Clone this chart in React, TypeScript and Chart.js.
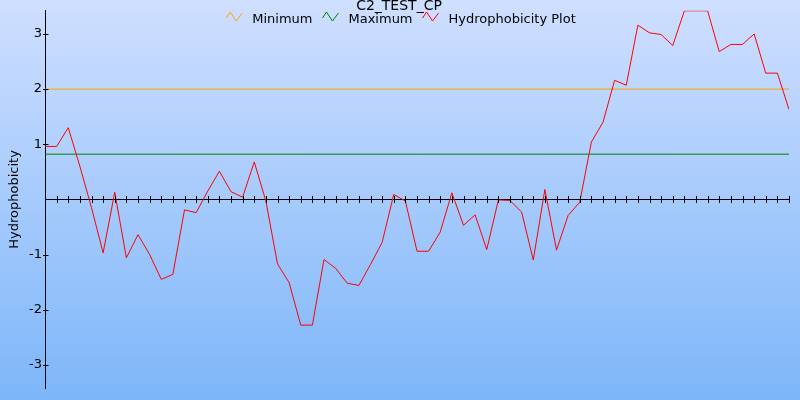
import React, { useEffect, useRef } from "react";
import { Chart, registerables } from "chart.js";

Chart.register(...registerables);

const chartTitle = "C2_TEST_CP";
const yAxisTitle = "Hydrophobicity";
const seriesLabels = ["Minimum", "Maximum", "Hydrophobicity Plot"];
const seriesColors = ["#ffa500", "#008000", "#ff0000"];
const minimumLevel = 2.0;
const maximumLevel = 0.82;
const hydrophobicity = [
  0.96, 0.96, 1.3, 0.6, -0.15, -0.97, 0.13, -1.06, -0.64, -1.0,
  -1.45, -1.36, -0.19, -0.24, 0.15, 0.51, 0.14, 0.04, 0.68, -0.03,
  -1.17, -1.51, -2.28, -2.28, -1.09, -1.25, -1.52, -1.56, -1.18, -0.78,
  0.09, -0.03, -0.94, -0.94, -0.59, 0.12, -0.47, -0.28, -0.91, -0.01,
  -0.02, -0.23, -1.1, 0.18, -0.92, -0.29, -0.05, 1.04, 1.4, 2.16,
  2.07, 3.16, 3.02, 2.99, 2.79, 3.42, 3.42, 3.42, 2.68, 2.81,
  2.81, 3.0, 2.29, 2.29, 1.63,
];
const yTickValues = [-3, -2, -1, 1, 2, 3];
const yLimit = 3.42;

const FONT = "'DejaVu Sans', sans-serif";

const backgroundPlugin = {
  id: "gradientBackground",
  beforeDraw(chart: any) {
    const { ctx, width, height } = chart;
    const g = ctx.createLinearGradient(0, 0, 0, height);
    g.addColorStop(0, "#cfdfff");
    g.addColorStop(1, "#7db6f9");
    ctx.save();
    ctx.fillStyle = g;
    ctx.fillRect(0, 0, width, height);
    ctx.restore();
  },
};

const decorPlugin = {
  id: "decor",
  afterDraw(chart: any) {
    const { ctx } = chart;
    const xs = chart.scales.x;
    const ys = chart.scales.y;
    const y0 = Math.round(ys.getPixelForValue(0)) + 0.5;
    const axisX = Math.round(chart.chartArea.left) + 0.5;
    ctx.save();
    ctx.strokeStyle = "#000";
    ctx.lineWidth = 1;
    ctx.beginPath();
    xs.ticks.forEach((t: any) => {
      const px = Math.round(xs.getPixelForValue(t.value)) + 0.5;
      ctx.moveTo(px, y0 - 3.5);
      ctx.lineTo(px, y0 + 3.5);
    });
    ys.ticks.forEach((t: any) => {
      const py = Math.round(ys.getPixelForValue(t.value)) + 0.5;
      ctx.moveTo(axisX - 2.5, py);
      ctx.lineTo(axisX + 3, py);
    });
    ctx.stroke();

    // title
    ctx.fillStyle = "#000";
    ctx.font = `14px ${FONT}`;
    ctx.textAlign = "center";
    ctx.textBaseline = "alphabetic";
    ctx.fillText(chartTitle, 399, 9.5);

    // legend
    ctx.font = `13px ${FONT}`;
    ctx.textAlign = "left";
    const iconW = 16;
    const iconGap = 10;
    const itemGap = 10;
    const widths = seriesLabels.map((l) => ctx.measureText(l).width);
    const total =
      widths.reduce((a, b) => a + b, 0) +
      seriesLabels.length * (iconW + iconGap) +
      (seriesLabels.length - 1) * itemGap;
    let x = 401 - total / 2;
    const base = 22.5;
    seriesLabels.forEach((label, i) => {
      ctx.strokeStyle = seriesColors[i];
      ctx.beginPath();
      ctx.moveTo(x, 18);
      ctx.lineTo(x + 4, 12);
      ctx.lineTo(x + 10, 21);
      ctx.lineTo(x + 16, 13);
      ctx.stroke();
      x += iconW + iconGap;
      ctx.fillStyle = "#000";
      ctx.fillText(label, x, base);
      x += widths[i] + itemGap;
    });
    ctx.restore();
  },
};

export default function App() {
  const canvasRef = useRef<HTMLCanvasElement | null>(null);

  useEffect(() => {
    if (!canvasRef.current) return;
    const last = hydrophobicity.length - 1;
    const chart = new Chart(canvasRef.current, {
      type: "line",
      data: {
        datasets: [
          {
            label: seriesLabels[0],
            data: [
              { x: 0, y: minimumLevel },
              { x: last, y: minimumLevel },
            ],
            borderColor: seriesColors[0],
            borderWidth: 1,
            pointRadius: 0,
            order: 2,
          },
          {
            label: seriesLabels[1],
            data: [
              { x: 0, y: maximumLevel },
              { x: last, y: maximumLevel },
            ],
            borderColor: seriesColors[1],
            borderWidth: 1,
            pointRadius: 0,
            order: 1,
          },
          {
            label: seriesLabels[2],
            data: hydrophobicity.map((v, i) => ({ x: i, y: v })),
            borderColor: seriesColors[2],
            borderWidth: 1,
            pointRadius: 0,
            tension: 0,
            order: 0,
          },
        ],
      },
      options: {
        animation: false,
        responsive: false,
        maintainAspectRatio: false,
        layout: { padding: { top: 10, right: 11, bottom: 12, left: 0 } },
        plugins: {
          legend: { display: false },
          title: { display: false },
          tooltip: { enabled: false },
        },
        scales: {
          x: {
            type: "linear",
            min: 0,
            max: last,
            position: { y: 0 } as any,
            display: true,
            grid: { display: false, drawTicks: false },
            border: { display: true, color: "#000", width: 1 },
            ticks: { display: false, autoSkip: false },
            afterBuildTicks: (s: any) => {
              s.ticks = hydrophobicity.map((_, i) => ({ value: i }));
            },
            afterFit: (s: any) => {
              s.height = 0;
            },
          },
          y: {
            type: "linear",
            min: -yLimit,
            max: yLimit,
            position: "left",
            grid: { display: false, drawTicks: false },
            border: { display: true, color: "#000", width: 1 },
            ticks: {
              padding: 3,
              color: "#000",
              font: { family: FONT, size: 13 },
            },
            afterBuildTicks: (s: any) => {
              s.ticks = yTickValues.map((v) => ({ value: v }));
            },
            afterFit: (s: any) => {
              s.width = 45;
            },
            title: {
              display: true,
              text: yAxisTitle,
              color: "#000",
              font: { family: FONT, size: 13 },
              padding: { top: 7, bottom: 0 },
            },
          },
        },
      },
      plugins: [backgroundPlugin, decorPlugin],
    });
    return () => chart.destroy();
  }, []);

  return (
    <div style={{ position: "absolute", left: 0, top: 0, width: 800, height: 400 }}>
      <canvas ref={canvasRef} width={800} height={400} />
    </div>
  );
}
